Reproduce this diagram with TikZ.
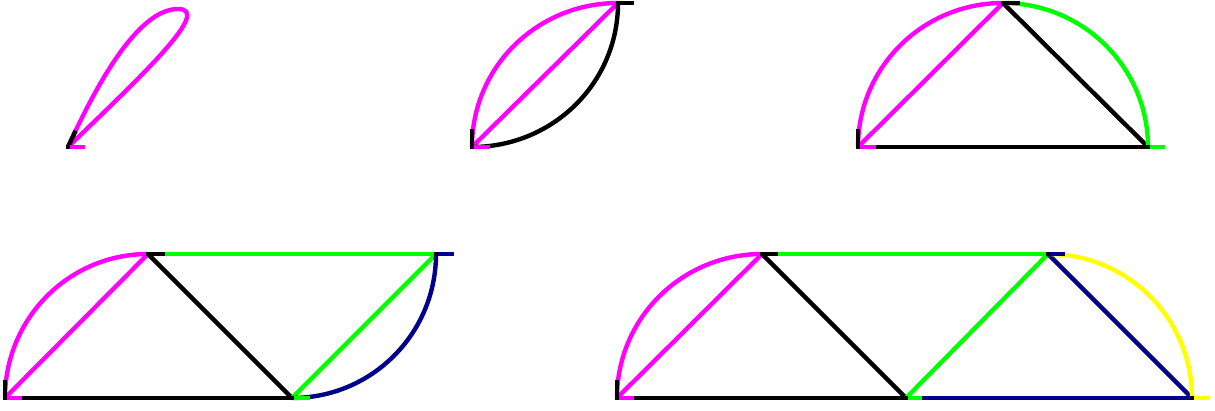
\documentclass[tikz,border=0pt]{standalone}
\usetikzlibrary{arrows.meta,positioning}
\definecolor{ribnavy}{RGB}{0,0,139}
\definecolor{ribmagenta}{RGB}{255,0,255}
\definecolor{ribgreen}{RGB}{0,255,0}
\definecolor{ribyellow}{RGB}{255,255,0}
\begin{document}
\begin{tikzpicture}[x=1pt,y=1pt,line width=4.4pt,
  edge/.style={line cap=butt},
  hstub/.style={line cap=butt},
  vstub/.style={line cap=butt,black}]
\useasboundingbox (0,0) rectangle (1215,410);
% one vertex
\coordinate (a1) at (68,263);
\coordinate (a1t) at (178,401);
\draw[edge,ribmagenta] (a1) .. controls (100,333) and (140,401) .. (a1t)
  .. controls (212,401) and (147,339) .. (a1);
\draw[vstub] (a1) -- ++(65:18);
\draw[hstub,ribmagenta] (a1) -- ++(17,0);
% two vertices
\coordinate (b1) at (472,263);
\coordinate (b2) at (618,407);
\draw[edge,ribmagenta] (b1) to[out=90,in=180] (b2);
\draw[edge,ribmagenta] (b1) -- (b2);
\draw[edge,black] (b1) to[out=0,in=-90] (b2);
\draw[vstub] (b1) -- ++(0,18);
\draw[hstub,ribmagenta] (b1) -- ++(18,0);
\draw[hstub,black] (b2) -- ++(16,0);
% three vertices
\coordinate (c1) at (858,263);
\coordinate (c2) at (1003,407);
\coordinate (c3) at (1148,263);
\draw[edge,ribmagenta] (c1) to[out=90,in=180] (c2);
\draw[edge,ribmagenta] (c1) -- (c2);
\draw[edge,black] (c2) -- (c3);
\draw[edge,black] (c1) -- (c3);
\draw[edge,ribgreen] (c2) to[out=0,in=90] (c3);
\draw[vstub] (c1) -- ++(0,18);
\draw[hstub,ribmagenta] (c1) -- ++(18,0);
\draw[hstub,black] (c2) -- ++(17,0);
\draw[hstub,ribgreen] (c3) -- ++(17,0);
% four vertices
\coordinate (d1) at (5,12);
\coordinate (d2) at (148,156);
\coordinate (d3) at (292,12);
\coordinate (d4) at (436,156);
\draw[edge,ribmagenta] (d1) to[out=90,in=180] (d2);
\draw[edge,ribmagenta] (d1) -- (d2);
\draw[edge,black] (d2) -- (d3);
\draw[edge,black] (d1) -- (d3);
\draw[edge,ribgreen] (d2) -- (d4);
\draw[edge,ribgreen] (d3) -- (d4);
\draw[edge,ribnavy] (d3) to[out=0,in=-90] (d4);
\draw[vstub] (d1) -- ++(0,18);
\draw[hstub,ribmagenta] (d1) -- ++(17,0);
\draw[hstub,black] (d2) -- ++(17,0);
\draw[hstub,ribgreen] (d3) -- ++(18,0);
\draw[hstub,ribnavy] (d4) -- ++(18,0);
% five vertices
\coordinate (e1) at (617,12);
\coordinate (e2) at (762,156);
\coordinate (e3) at (906,12);
\coordinate (e4) at (1048,156);
\coordinate (e5) at (1192,12);
\draw[edge,ribmagenta] (e1) to[out=90,in=180] (e2);
\draw[edge,ribmagenta] (e1) -- (e2);
\draw[edge,black] (e2) -- (e3);
\draw[edge,black] (e1) -- (e3);
\draw[edge,ribgreen] (e2) -- (e4);
\draw[edge,ribgreen] (e3) -- (e4);
\draw[edge,ribnavy] (e4) -- (e5);
\draw[edge,ribnavy] (e3) -- (e5);
\draw[edge,ribyellow] (e4) to[out=0,in=90] (e5);
\draw[vstub] (e1) -- ++(0,18);
\draw[hstub,ribmagenta] (e1) -- ++(17,0);
\draw[hstub,black] (e2) -- ++(16,0);
\draw[hstub,ribgreen] (e3) -- ++(16,0);
\draw[hstub,ribnavy] (e4) -- ++(17,0);
\draw[hstub,ribyellow] (e5) -- ++(18,0);
% vertex dots
\foreach \v in {a1,b1,b2,c1,c2,c3,d1,d2,d3,d4,e1,e2,e3,e4,e5}
  \fill[black] ([shift={(-1.8,-1.8)}]\v) rectangle ++(3.6,3.6);
\end{tikzpicture}
\end{document}
